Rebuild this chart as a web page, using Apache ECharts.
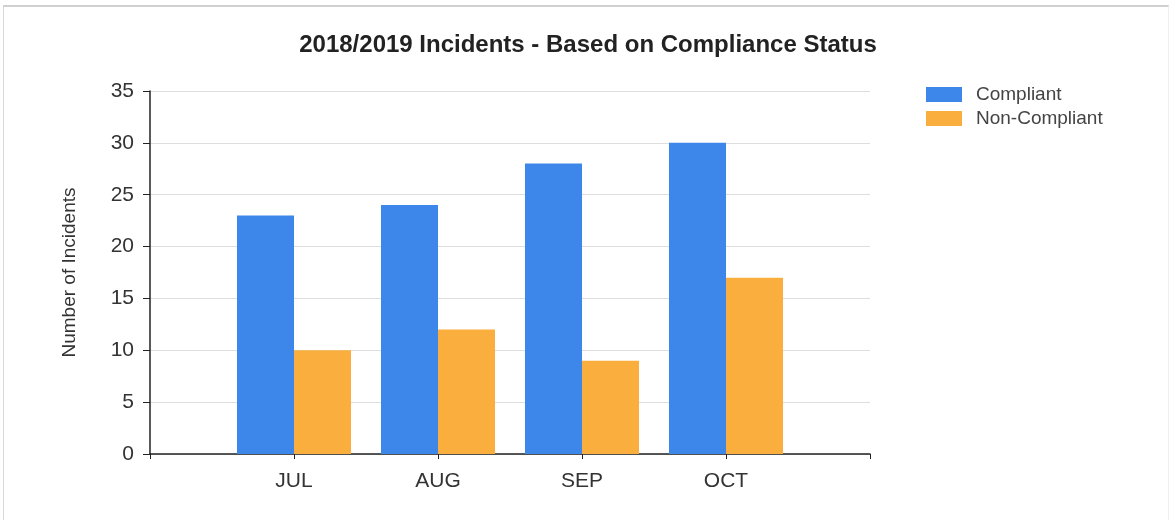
<!DOCTYPE html>
<html>
<head>
<meta charset="utf-8">
<script src="https://cdn.jsdelivr.net/npm/echarts@6/dist/echarts.min.js"></script>
<style>
  html, body { margin: 0; padding: 0; background: #fff; }
  #frame { position: absolute; left: 3px; top: 5px; width: 1164px; height: 515px;
           border-top: 2px solid #d0d0d0; border-left: 1px solid #d8d8d8; border-right: 1px solid #eee; }
  #chart { position: absolute; left: 0; top: 0; width: 1170px; height: 520px; }
</style>
</head>
<body>
<div id="frame"></div>
<div id="chart"></div>
<script>
// 数据
var months = ["JUL", "AUG", "SEP", "OCT"];
var compliant = [23, 24, 28, 30];
var nonCompliant = [10, 12, 9, 17];
var seriesNames = ["Compliant", "Non-Compliant"];

// 两端留空类目，使月份落在刻度上
function pad(arr, fill) {
  return [fill].concat(arr, [fill]);
}

var font = "'Liberation Sans', Arial, sans-serif";

var options = {
  animation: false,
  title: {
    text: "2018/2019 Incidents - Based on Compliance Status",
    left: 583,
    textAlign: "center",
    top: 28,
    textStyle: { fontFamily: font, fontSize: 24, fontWeight: "bold", color: "#222" }
  },
  legend: {
    orient: "vertical",
    left: 921,
    top: 80,
    itemWidth: 36,
    itemHeight: 15,
    itemGap: 5,
    icon: "rect",
    data: seriesNames,
    textStyle: { fontFamily: font, fontSize: 19, color: "#444", padding: [0, 0, 0, 9] }
  },
  grid: { left: 150, right: 300, top: 91, bottom: 66 },
  xAxis: {
    type: "category",
    boundaryGap: false,
    data: pad(months, ""),
    axisLine: { lineStyle: { color: "#222", width: 1.5 } },
    axisTick: { show: true, length: 5, inside: false, lineStyle: { color: "#222" } },
    axisLabel: { fontFamily: font, fontSize: 21, color: "#333", margin: 17 },
    splitLine: { show: false }
  },
  yAxis: {
    type: "value",
    min: 0,
    max: 35,
    interval: 5,
    name: "Number of Incidents",
    nameLocation: "middle",
    nameGap: 71,
    nameTextStyle: { fontFamily: font, fontSize: 19, color: "#333" },
    axisLine: { show: true, lineStyle: { color: "#222", width: 1.5 } },
    axisTick: { show: true, length: 7, lineStyle: { color: "#222" } },
    axisLabel: { fontFamily: font, fontSize: 21, color: "#333", margin: 16 },
    splitLine: { lineStyle: { color: "#dedede" } }
  },
  series: [
    {
      name: seriesNames[0],
      type: "bar",
      barWidth: 57,
      barGap: "0%",
      data: pad(compliant, "-"),
      itemStyle: { color: "#3d87ea" }
    },
    {
      name: seriesNames[1],
      type: "bar",
      barWidth: 57,
      barGap: "0%",
      data: pad(nonCompliant, "-"),
      itemStyle: { color: "#f9ae3d" }
    }
  ]
};

var myEchart = echarts.init(document.getElementById("chart"));
myEchart.setOption(options);
</script>
</body>
</html>
